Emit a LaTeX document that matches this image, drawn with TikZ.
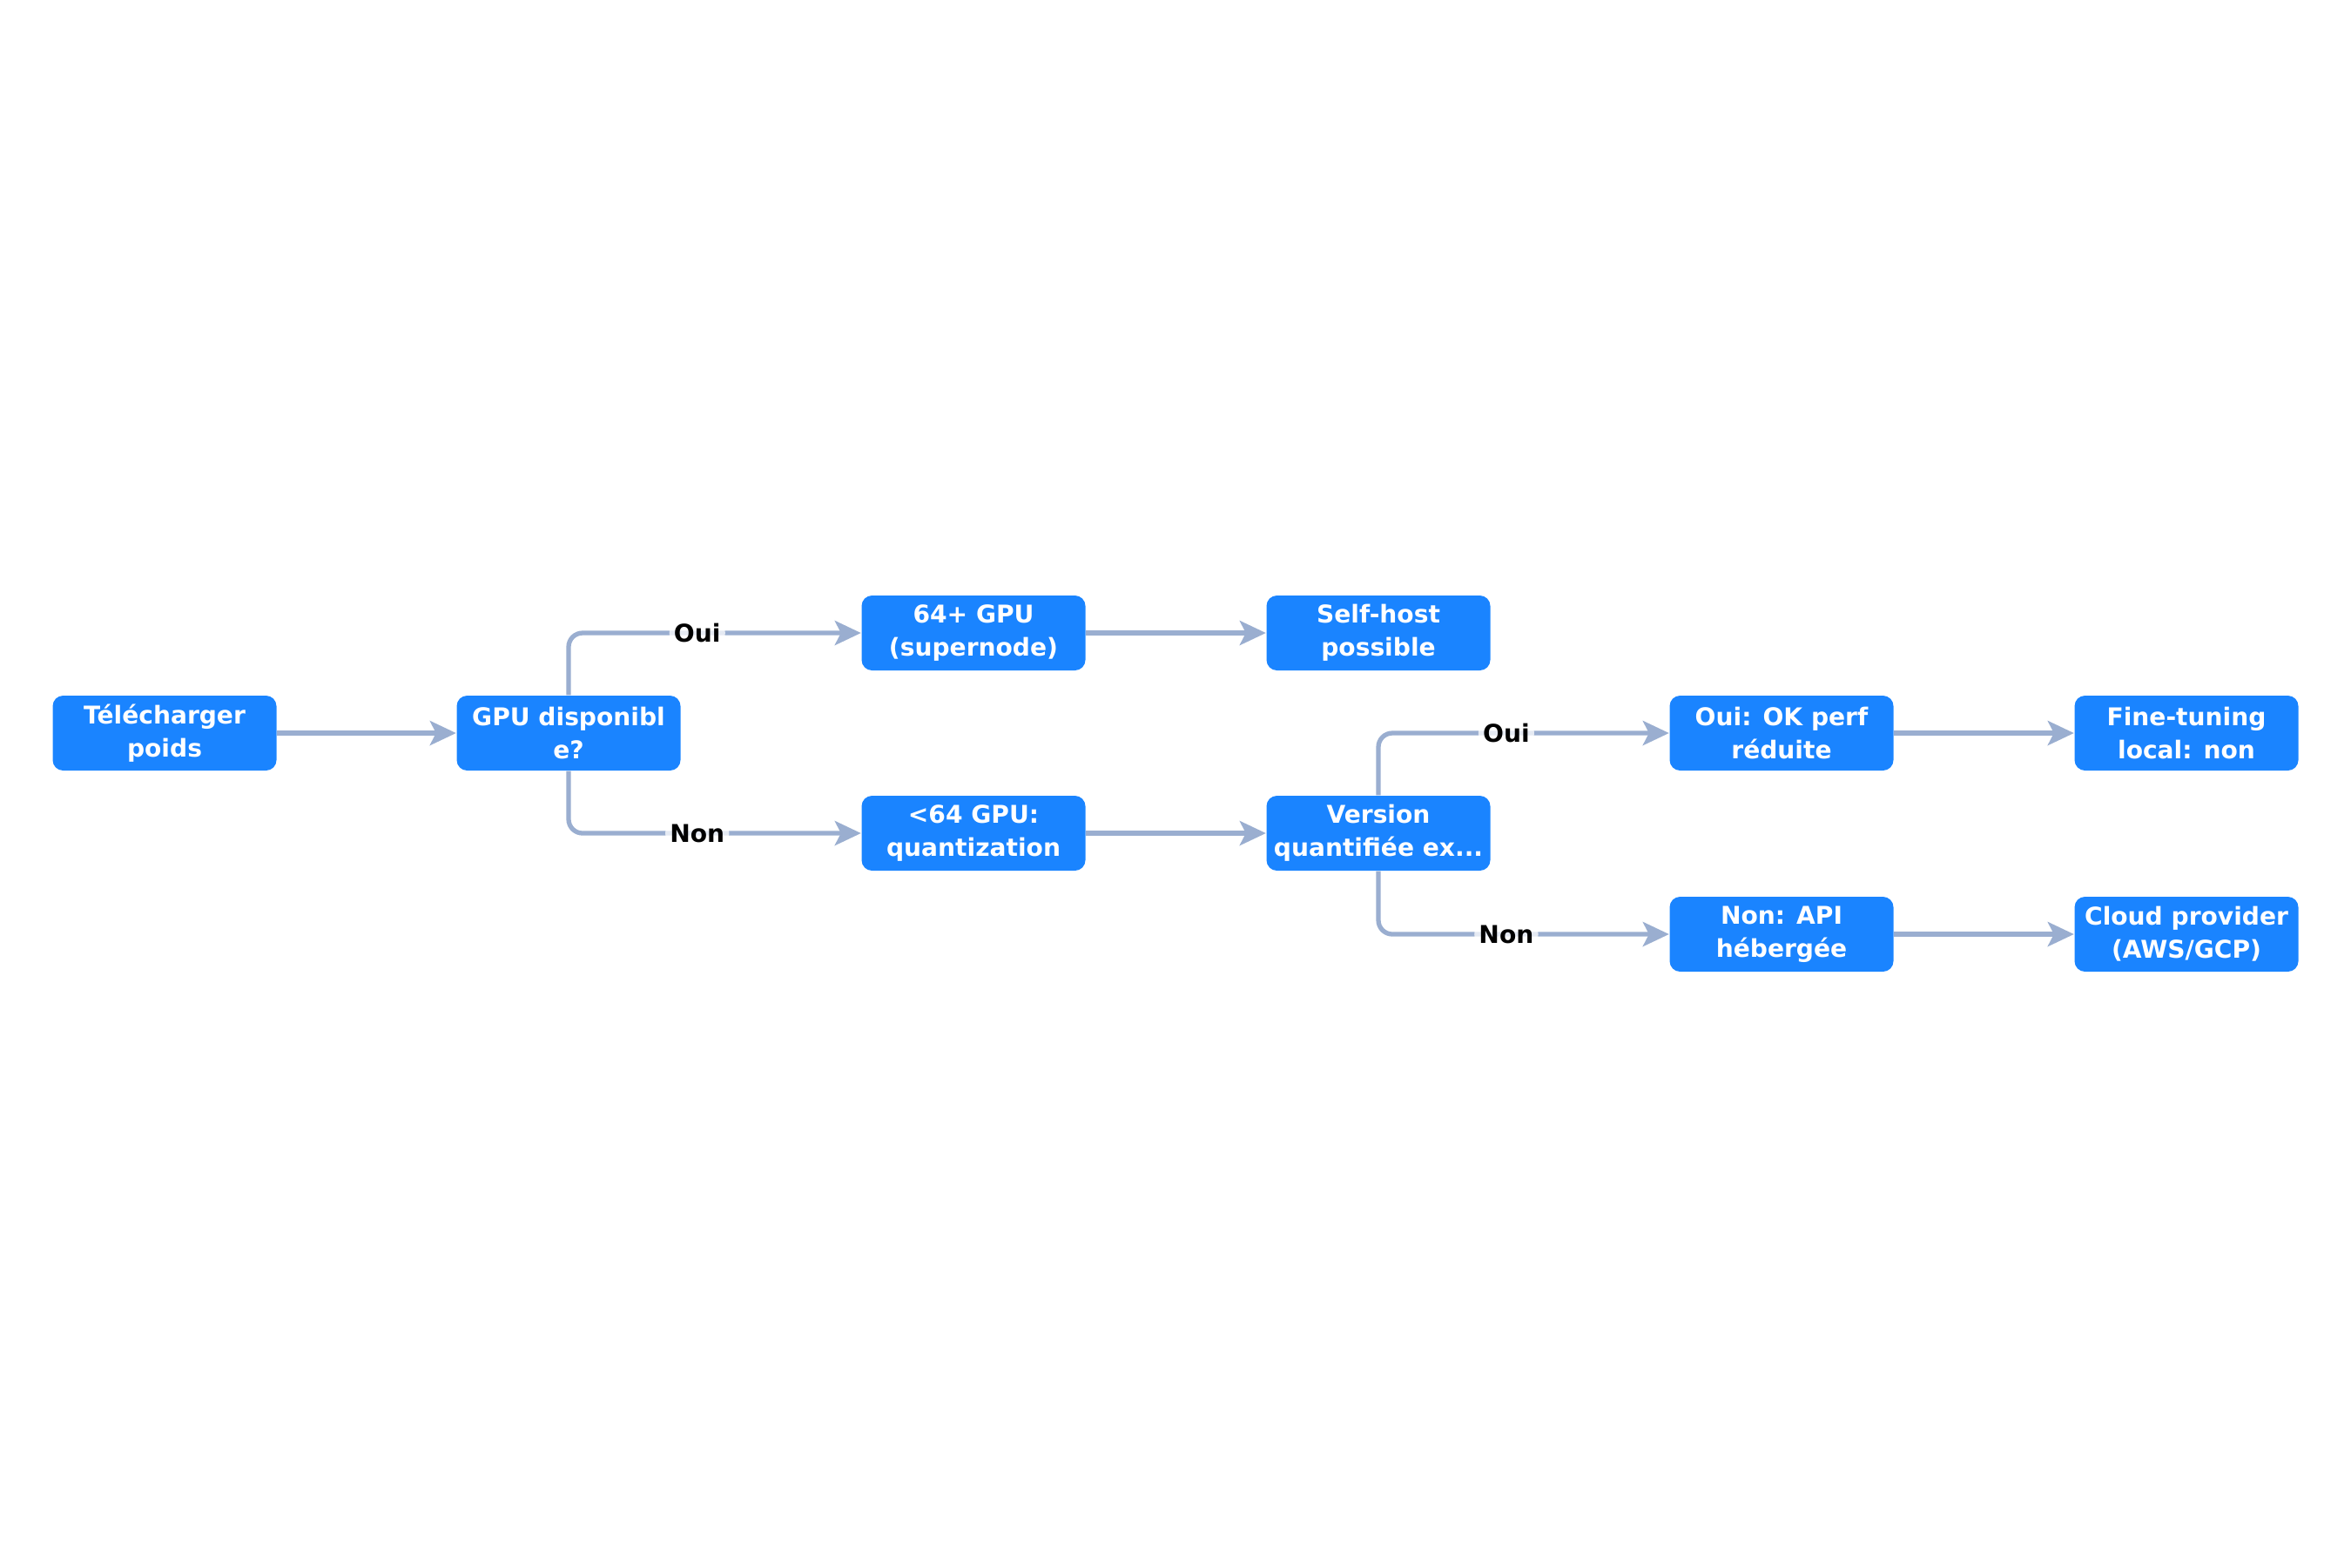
\documentclass[tikz,border=0pt]{standalone}
\usepackage{fontspec}
\setmainfont{DejaVu Sans}
\usetikzlibrary{arrows.meta}
\definecolor{bleu}{RGB}{26,132,255}
\definecolor{fleche}{RGB}{154,174,208}

\begin{document}
\begin{tikzpicture}[
  boite/.style={fill=bleu, rounded corners=0.12cm, minimum width=2.57cm, minimum height=0.86cm,
    inner sep=0pt, align=center, text=white, font=\fontsize{8}{10.8}\selectfont\bfseries},
  lien/.style={draw=fleche, line width=1.5pt, rounded corners=0.16cm,
    -{Stealth[length=0.3cm, width=0.28cm, inset=0.07cm]}},
  etiq/.style={fill=white, fill opacity=0.75, text opacity=1, inner sep=1.5pt,
    font=\fontsize{8}{10}\selectfont\bfseries}]
\useasboundingbox (0,0) rectangle (27,-18);
% Etapes
\node[boite] (poids) at (1.89,-8.42) {Télécharger\\poids};
\node[boite] (gpu) at (6.53,-8.42) {GPU disponibl\\e?};
\node[boite] (super) at (11.18,-7.27) {64+ GPU\\(supernode)};
\node[boite] (self) at (15.83,-7.27) {Self-host\\possible};
\node[boite] (quant) at (11.18,-9.57) {<64 GPU:\\quantization};
\node[boite] (version) at (15.83,-9.57) {Version\\quantifiée ex...};
\node[boite] (perf) at (20.46,-8.42) {Oui: OK perf\\réduite};
\node[boite] (fine) at (25.11,-8.42) {Fine-tuning\\local: non};
\node[boite] (api) at (20.46,-10.73) {Non: API\\hébergée};
\node[boite] (cloud) at (25.11,-10.73) {Cloud provider\\(AWS/GCP)};
% Liens
\draw[lien] (poids) -- (gpu);
\draw[lien] (gpu.north) |- node[etiq, pos=0.72]{Oui} (super.west);
\draw[lien] (gpu.south) |- node[etiq, pos=0.72]{Non} (quant.west);
\draw[lien] (super) -- (self);
\draw[lien] (quant) -- (version);
\draw[lien] (version.north) |- node[etiq, pos=0.72]{Oui} (perf.west);
\draw[lien] (version.south) |- node[etiq, pos=0.72]{Non} (api.west);
\draw[lien] (perf) -- (fine);
\draw[lien] (api) -- (cloud);
\end{tikzpicture}
\end{document}
